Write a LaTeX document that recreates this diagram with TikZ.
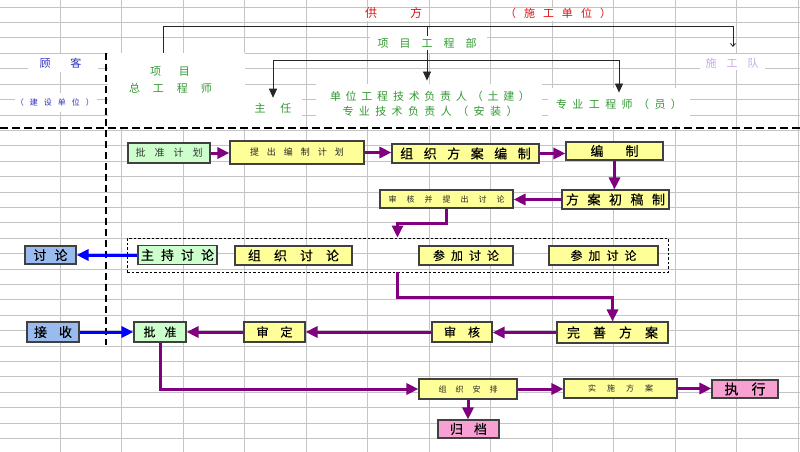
\documentclass[tikz,border=0pt]{standalone}
\usepackage{fontspec}
\newfontfamily\cjk{Noto Sans CJK SC}
\newfontfamily\cjkb[FakeBold=0.25]{Noto Sans CJK SC}
\usetikzlibrary{arrows.meta}
\definecolor{cyel}{HTML}{FFFF99}
\definecolor{cgrn}{HTML}{CCFFCC}
\definecolor{cblu}{HTML}{99BBEE}
\definecolor{cpnk}{HTML}{F7A0D2}
\definecolor{cpur}{HTML}{800080}
\definecolor{carb}{HTML}{0000FF}
\definecolor{cgrid}{HTML}{C4C4C4}
\definecolor{tgrn}{HTML}{339933}
\definecolor{tred}{HTML}{E01010}
\definecolor{tblu}{HTML}{3030C0}
\definecolor{tlav}{HTML}{C8A8E8}
\makeatletter
\newcommand\spaced[2]{\begingroup\def\sp@g{#1}\let\sp@f\relax\@tfor\sp@c:=#2\do{\ifx\sp@f\relax\let\sp@f\empty\else\hspace*{\sp@g}\fi\sp@c}\endgroup}
\makeatother
\begin{document}
\begin{tikzpicture}[x=1pt,y=-1pt,
  fs/.style={font=\cjk\fontsize{#1}{#1}\selectfont},
  bfs/.style={font=\cjkb\fontsize{#1}{#1}\selectfont},
  box/.style={draw=black!75, line width=1.1pt, inner sep=0pt, anchor=center, text=black},
  ybox/.style={box, fill=cyel},
  gbox/.style={box, fill=cgrn},
  bbox/.style={box, fill=cblu},
  pbox/.style={box, fill=cpnk},
  dbox/.style={draw=black, line width=0.9pt, dash pattern=on 2.5pt off 2pt, inner sep=0pt},
  parr/.style={draw=cpur, line width=3pt, -{Triangle[width=11pt,length=12pt]}},
  barr/.style={draw=carb, line width=3pt, -{Triangle[width=11pt,length=12pt]}},
  hl/.style={draw=black!85, line width=0.8pt},
  htip/.style={-{Triangle[width=8pt,length=9pt]}},
  htext/.style={inner sep=2pt},
  gridline/.style={draw=cgrid, line width=0.6pt}]
\useasboundingbox (0,0) rectangle (800,452);
\fill[white] (0,0) rectangle (800,452);
% spreadsheet grid
\foreach \k in {0,...,28} \draw[gridline] (0,{7+15.4*\k}) -- (800,{7+15.4*\k});
\foreach \k in {0,...,12} \draw[gridline] ({60+61.5*\k},0) -- ({60+61.5*\k},452);
% white text cells of the header
\fill[white] (108,53) rectangle (245,127);
\fill[white] (28,54) rectangle (98,72);
\fill[white] (15,93) rectangle (97,112);
\fill[white] (245,99) rectangle (302,126);
\fill[white] (316,84) rectangle (542,126);
\fill[white] (548,88) rectangle (690,126);
\fill[white] (370,29) rectangle (487,53);
\fill[white] (700,54) rectangle (765,70);
\fill[white] (360,8) rectangle (426,21);
\fill[white] (508,8) rectangle (610,21);
% header texts
\node[htext, fs=12, text=tred] (gf) at (393.5,13) {\spaced{33pt}{供方}};
\node[htext, fs=11, text=tred] (sgdw) at (558,13) {\spaced{8pt}{（施工单位）}};
\node[htext, fs=11, text=tgrn] (xmb) at (427,43) {\spaced{11pt}{项目工程部}};
\node[htext, fs=11, text=tgrn] (zr) at (273,108) {\spaced{15pt}{主任}};
\node[htext, text=tgrn, align=center, font=\cjk\fontsize{11}{15}\selectfont] (dw) at (430,103.5)
  {\spaced{4.75pt}{单位工程技术负责人（土建）}\\\spaced{5.4pt}{专业技术负责人（安装）}};
\node[htext, fs=11, text=tgrn] (zy) at (619,104) {\spaced{5.4pt}{专业工程师（员）}};
\node[htext, fs=11, text=tlav] (sgd) at (732,63) {\spaced{10pt}{施工队}};
\node[htext, fs=11, text=tblu] (gk) at (60.5,63) {\spaced{20pt}{顾客}};
\node[htext, fs=8, text=tblu] (jsdw) at (55,102) {\spaced{6pt}{（建设单位）}};
\node[htext, fs=11, text=tgrn] (xm) at (170,72) {\spaced{18pt}{项目}};
\node[htext, fs=11, text=tgrn] (zgcs) at (170.5,88) {\spaced{13pt}{总工程师}};
% header connectors
\coordinate (zgt) at (163,53);
\coordinate (bus) at (427,26.5);
\coordinate (sgt) at (733,47);
\coordinate (bus2) at (427,60);
\draw[hl, -{Straight Barb[length=3pt,width=5pt]}] (zgt) |- (bus) -| (sgt);
\draw[hl] (xmb.north) -- (xmb.north |- bus);
\draw[hl, htip, shorten >=8pt] (xmb.south) -- (xmb.south |- dw.north);
\draw[hl, htip, shorten >=3pt] (xmb.south |- bus2) -| (zr.north);
\draw[hl, htip, shorten >=4pt] (xmb.south |- bus2) -| (zy.north);
% separators
\draw[line width=2.6pt, dash pattern=on 8pt off 4pt] (0,128) -- (800,128);
\draw[line width=1.6pt, dash pattern=on 7pt off 4pt] (106,53) -- (106,345);
% flow boxes
\node[gbox, minimum width=82, minimum height=20, fs=10, text=black!80] (pz) at (169,153) {\spaced{9pt}{批准计划}};
\node[ybox, minimum width=134, minimum height=23, fs=9, text=black!85] (tc) at (297,152.5) {\spaced{8pt}{提出编制计划}};
\node[ybox, minimum width=147, minimum height=19, bfs=13] (zz) at (465.5,153.5) {\spaced{10.5pt}{组织方案编制}};
\node[ybox, minimum width=97, minimum height=18, bfs=13] (bz) at (614.5,151) {\spaced{22pt}{编制}};
\node[ybox, minimum width=107, minimum height=19, bfs=13] (fa) at (615.5,199.5) {\spaced{8.5pt}{方案初稿制}};
\node[ybox, minimum width=133, minimum height=18, fs=8, text=black!85] (sh) at (446.5,199) {\spaced{10pt}{审核并提出讨论}};
\node[dbox, minimum width=541, minimum height=34] (db) at (397.5,255) {};
\node[gbox, minimum width=79, minimum height=19, bfs=13] (zc) at (177.5,255) {\spaced{7pt}{主持讨论}};
\node[ybox, minimum width=117, minimum height=19, bfs=13] (zt) at (293.5,255.5) {\spaced{13pt}{组织讨论}};
\node[ybox, minimum width=94, minimum height=19, bfs=12] (cj1) at (466,255.5) {\spaced{6pt}{参加讨论}};
\node[ybox, minimum width=109, minimum height=19, bfs=12] (cj2) at (603.5,255.5) {\spaced{6pt}{参加讨论}};
\node[bbox, minimum width=51, minimum height=18, bfs=13] (tl) at (50.5,255) {\spaced{8pt}{讨论}};
\node[ybox, minimum width=111, minimum height=21, bfs=13] (ws) at (612.5,332.5) {\spaced{13pt}{完善方案}};
\node[ybox, minimum width=60, minimum height=20, bfs=12] (shk) at (462,332) {\spaced{12pt}{审核}};
\node[ybox, minimum width=61, minimum height=20, bfs=12] (sd) at (274.5,332) {\spaced{12pt}{审定}};
\node[gbox, minimum width=52, minimum height=20, bfs=12] (pzn) at (160,332) {\spaced{9pt}{批准}};
\node[bbox, minimum width=52, minimum height=20, bfs=13] (js) at (53,332) {\spaced{12pt}{接收}};
\node[ybox, minimum width=98, minimum height=20, fs=8, text=black!85] (zap) at (468,389) {\spaced{9pt}{组织安排}};
\node[ybox, minimum width=113, minimum height=19, fs=8, text=black!85] (ss) at (620.5,388.5) {\spaced{11pt}{实施方案}};
\node[pbox, minimum width=66, minimum height=18, bfs=14] (zx) at (745,389) {\spaced{13pt}{执行}};
\node[pbox, minimum width=61, minimum height=18, bfs=13] (gd) at (468.5,429) {\spaced{11pt}{归档}};
% flow connectors
\draw[parr] (pz.east) -- (pz.east -| tc.west);
\draw[parr] (tc.east) -- (tc.east -| zz.west);
\draw[parr] (zz.east) -- (zz.east -| bz.west);
\draw[parr] (bz.south) -- (bz.south |- fa.north);
\draw[parr] (fa.west) -- (fa.west -| sh.east);
\draw[parr] (sh.south) -- ++(0,15) -| (db.north);
\draw[parr] (db.south) -- ++(0,25) -| (ws.north);
\draw[barr] (zc.west) -- (zc.west -| tl.east);
\draw[parr] (ws.west) -- (ws.west -| shk.east);
\draw[parr] (shk.west) -- (shk.west -| sd.east);
\draw[parr] (sd.west) -- (sd.west -| pzn.east);
\draw[barr] (js.east) -- (js.east -| pzn.west);
\draw[parr] (pzn.south) |- (zap.west);
\draw[parr] (zap.east) -- (zap.east -| ss.west);
\draw[parr] (ss.east) -- (ss.east -| zx.west);
\draw[parr] (zap.south) -- (zap.south |- gd.north);
\end{tikzpicture}
\end{document}
